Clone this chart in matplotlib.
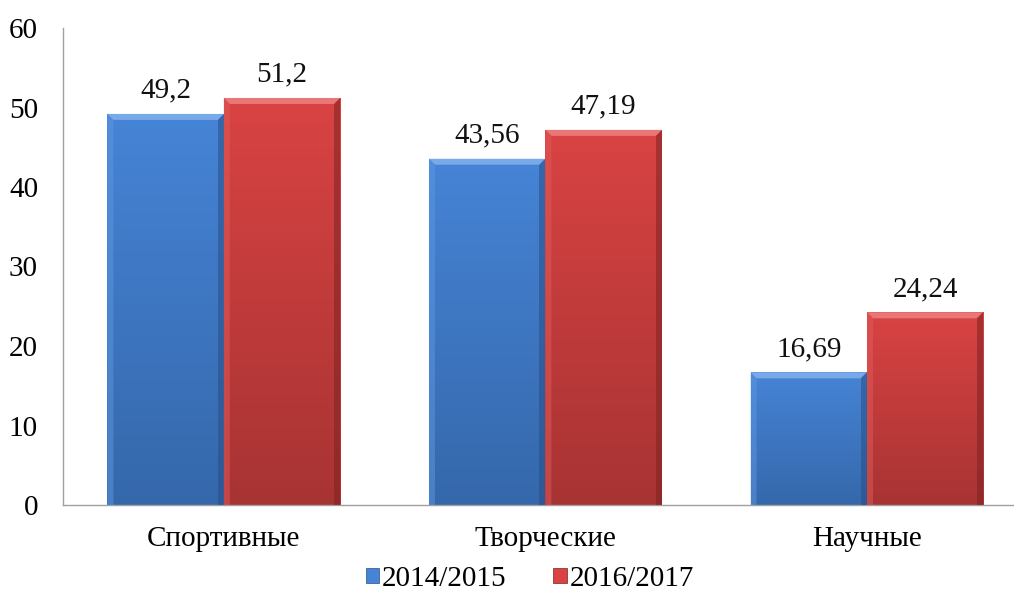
import numpy as np
import matplotlib
matplotlib.use("Agg")
import matplotlib.pyplot as plt
from matplotlib.patches import Polygon, Rectangle
from matplotlib.colors import LinearSegmentedColormap

categories = ["Спортивные", "Творческие", "Научные"]
series_names = ["2014/2015", "2016/2017"]
values_2014 = [49.2, 43.56, 16.69]
values_2016 = [51.2, 47.19, 24.24]
labels_2014 = ["49,2", "43,56", "16,69"]
labels_2016 = ["51,2", "47,19", "24,24"]
yticks = [0, 10, 20, 30, 40, 50, 60]

plt.rcParams['font.family'] = ['Liberation Serif', 'DejaVu Serif']
FS = 21

fig = plt.figure(figsize=(10.14, 5.94), dpi=100)
ax = fig.add_axes([63/1014, 1 - 505/594, (1013-63)/1014, (505-28)/594])
ax.set_xlim(-0.5, 2.454)
ax.set_ylim(0, 60)

w = 0.362
x = np.arange(len(categories))
styles = [
    dict(top="#4684d6", bot="#3568ab", light="#8ab8f0", dark="#274f85", side="#5e97e0"),
    dict(top="#d94343", bot="#a83333", light="#f08a8a", dark="#7e2222", side="#e05a5a"),
]

fig.canvas.draw()

def bevel_bar(ax, x0, x1, h, st):
    cmap = LinearSegmentedColormap.from_list("g", [st["bot"], st["top"]])
    grad = np.linspace(0, 1, 256).reshape(-1, 1)
    rect = Rectangle((x0, 0), x1 - x0, h, transform=ax.transData, facecolor="none",
                     edgecolor="none")
    ax.add_patch(rect)
    im = ax.imshow(grad, extent=(x0, x1, 0, h), origin="lower", cmap=cmap,
                   aspect="auto", zorder=2)
    im.set_clip_path(rect)
    T = ax.transData
    inv = T.inverted()
    (px0, py0) = T.transform((x0, 0))
    (px1, py1) = T.transform((x1, h))
    b = 6
    def P(pts):
        return [tuple(inv.transform(p)) for p in pts]
    top = P([(px0, py1), (px1, py1), (px1 - b, py1 - b), (px0 + b, py1 - b)])
    right = P([(px1, py1), (px1, py0), (px1 - b, py0), (px1 - b, py1 - b)])
    left = P([(px0, py1), (px0 + b, py1 - b), (px0 + b, py0), (px0, py0)])
    ax.add_patch(Polygon(top, closed=True, facecolor=st["light"], edgecolor="none",
                         alpha=0.75, zorder=3))
    ax.add_patch(Polygon(right, closed=True, facecolor=st["dark"], edgecolor="none",
                         alpha=0.55, zorder=3))
    ax.add_patch(Polygon(left, closed=True, facecolor=st["side"], edgecolor="none",
                         alpha=0.5, zorder=3))

for i, (vals, labs, st) in enumerate(zip([values_2014, values_2016],
                                          [labels_2014, labels_2016], styles)):
    for xi, v, lab in zip(x, vals, labs):
        x0 = xi - w + i * w
        bevel_bar(ax, x0, x0 + w, v, st)
        ax.annotate(lab, (x0 + w / 2, v), xytext=(0, 7.5), textcoords="offset points",
                    ha="center", va="bottom", fontsize=FS, color="#111111")

ax.set_xlim(-0.5, 2.454)
ax.set_ylim(0, 60)
ax.set_yticks(yticks)
ax.set_yticklabels([str(t) for t in yticks], fontsize=FS)
ax.set_xticks(x)
ax.set_xticklabels(categories, fontsize=FS)
ax.tick_params(axis="both", length=0)
ax.tick_params(axis="y", pad=18)
ax.tick_params(axis="x", pad=15)
for s in ["top", "right"]:
    ax.spines[s].set_visible(False)
for s in ["left", "bottom"]:
    ax.spines[s].set_color("#a0a0a0")
    ax.spines[s].set_linewidth(1.0)

handles = [Rectangle((0, 0), 1, 1, facecolor=styles[0]["top"], edgecolor=styles[0]["dark"], lw=0.5),
           Rectangle((0, 0), 1, 1, facecolor=styles[1]["top"], edgecolor=styles[1]["dark"], lw=0.5)]
fig.legend(handles, series_names, loc="center", bbox_to_anchor=(530/1014, 1 - 579/594),
           ncol=2, frameon=False, fontsize=FS, handlelength=0.45, handleheight=0.45,
           handletextpad=0.1, columnspacing=1.6)

fig.savefig("out.png", dpi=100)
